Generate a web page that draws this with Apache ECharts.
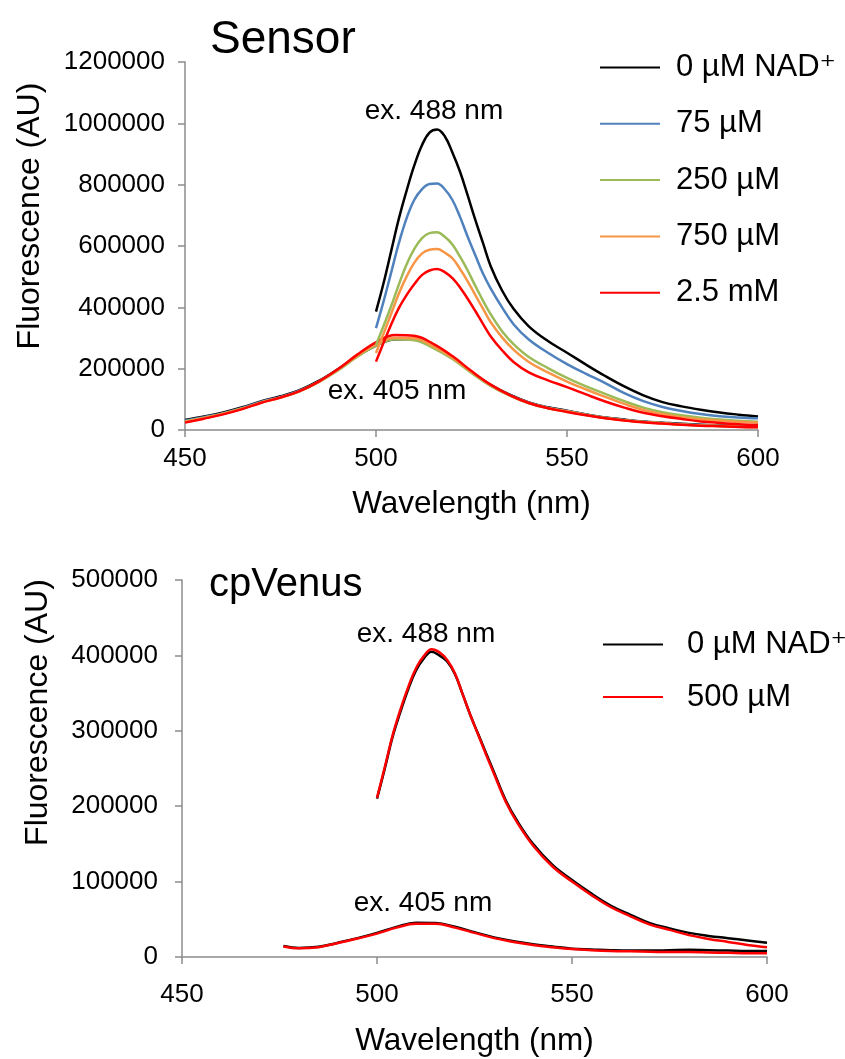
<!DOCTYPE html>
<html>
<head>
<meta charset="utf-8">
<script src="https://cdn.jsdelivr.net/npm/echarts@6/dist/echarts.min.js"></script>
<style>
  html, body { margin: 0; padding: 0; background: #fff; }
  #main { width: 845px; height: 1059px; }
</style>
</head>
<body>
<div id="main"></div>
<script>
// ---- data ----
// Sensor, excitation 488 nm (emission 500-600 nm)
const wl488 = [500, 502, 504, 506, 508, 510, 512, 514, 516, 518, 520, 522, 524, 526, 528, 530,
  533, 536, 540, 545, 550, 555, 560, 565, 570, 575, 580, 585, 590, 595, 600];
const s488_0 = [386000, 480000, 585000, 690000, 780000, 862000, 928000, 970000, 980000, 958000, 905000, 842000,
  765000, 685000, 610000, 535000, 455000, 395000, 338000, 290000, 252000, 213000, 176000, 142000, 113000,
  91000, 77000, 66000, 57000, 50000, 44000];
const s488_75 = [332000, 420000, 515000, 610000, 690000, 750000, 785000, 802000, 804000, 785000, 750000, 695000,
  630000, 570000, 510000, 462000, 400000, 345000, 295000, 252000, 215000, 183000, 153000, 120000, 94000,
  75000, 62000, 52000, 45000, 41000, 38000];
const s488_250 = [277000, 340000, 405000, 475000, 540000, 590000, 625000, 642000, 645000, 630000, 605000, 565000,
  520000, 470000, 422000, 378000, 322000, 280000, 238000, 202000, 170000, 142000, 118000, 94000, 73000,
  58000, 48000, 40000, 34000, 30000, 27000];
const s488_750 = [251000, 315000, 380000, 445000, 500000, 545000, 575000, 588000, 590000, 578000, 560000, 525000,
  485000, 440000, 396000, 352000, 302000, 262000, 222000, 188000, 158000, 132000, 108000, 85000, 65000,
  52000, 42000, 35000, 30000, 27000, 24000];
const s488_2500 = [223000, 285000, 345000, 398000, 440000, 475000, 505000, 520000, 525000, 515000, 495000, 465000,
  428000, 388000, 346000, 306000, 260000, 222000, 188000, 162000, 140000, 116000, 93000, 73000, 56000,
  45000, 36000, 28000, 23000, 19000, 16000];

// Sensor, excitation 405 nm (emission 450-600 nm)
const wl405 = [450, 455, 460, 465, 470, 475, 480, 485, 490, 495, 500, 505, 510, 515, 520, 525, 530, 535,
  540, 545, 550, 555, 560, 565, 570, 575, 580, 585, 590, 595, 600];
const s405_0 = [33000, 44000, 57000, 74000, 94000, 110000, 130000, 160000, 198000, 240000, 275000, 296000, 297000,
  272000, 236000, 189000, 147000, 115000, 90000, 74000, 63000, 51000, 41000, 34000, 28000, 24000, 20000,
  17000, 15000, 13000, 12000];
const s405_75 = [30000, 42000, 55000, 72000, 92000, 108000, 128000, 158000, 196000, 240000, 276000, 298000, 298000,
  272000, 236000, 188000, 146000, 114000, 89000, 73000, 62000, 50000, 40000, 33000, 27000, 23000, 19000,
  16000, 14000, 12000, 11000];
const s405_250 = [28000, 40000, 53000, 70000, 90000, 106000, 126000, 156000, 194000, 238000, 275000, 296000, 293000,
  267000, 232000, 186000, 144000, 112000, 87000, 71000, 60000, 49000, 39000, 32000, 26000, 22000, 18000,
  15000, 13000, 11000, 10000];
const s405_750 = [27000, 39000, 53000, 70000, 90000, 106000, 127000, 157000, 196000, 241000, 279000, 301000, 299000,
  273000, 236000, 189000, 146000, 113000, 88000, 72000, 61000, 49000, 39000, 32000, 26000, 22000, 18000,
  15000, 13000, 11000, 10000];
const s405_2500 = [24000, 37000, 51000, 68000, 89000, 106000, 127000, 158000, 198000, 245000, 286000, 310000, 307000,
  281000, 241000, 192000, 148000, 114000, 88000, 71000, 59000, 48000, 38000, 31000, 25000, 21000, 17000,
  14000, 12000, 10000, 9000];

// cpVenus
const v488_0 = [210000, 250000, 292000, 325000, 355000, 380000, 396000, 405000, 400000, 392000, 375000, 348000,
  320000, 295000, 270000, 245000, 208000, 180000, 150000, 122000, 102000, 84000, 68000, 56000, 45000,
  38000, 32000, 28000, 25000, 22000, 19000];
const v488_500 = [211000, 252000, 294000, 328000, 358000, 383000, 399000, 408000, 404000, 394000, 376000, 348000,
  320000, 294000, 268000, 243000, 206000, 178000, 148000, 120000, 100000, 82000, 66000, 54000, 43000,
  36000, 29000, 24000, 20000, 16000, 13000];
const wl405v = [476, 480, 485, 490, 495, 500, 505, 510, 515, 520, 525, 530, 535, 540, 545, 550, 555, 560,
  565, 570, 575, 580, 585, 590, 595, 600];
const v405_0 = [14500, 12000, 13500, 19000, 25000, 32000, 40000, 45500, 45000, 40000, 33000, 26000, 21000, 17000,
  14000, 11000, 10000, 9000, 8500, 8500, 9000, 9500, 9000, 8500, 8000, 8000];
const v405_500 = [14000, 11500, 13000, 18500, 24500, 31000, 39000, 44000, 44000, 39000, 32000, 25000, 20000, 16000,
  13000, 10500, 9000, 8000, 7500, 7000, 6500, 6500, 6000, 5500, 5000, 5000];

const namesSensor = ['0 µM NAD⁺', '75 µM', '250 µM', '750 µM', '2.5 mM'];
const namesVenus = ['0 µM NAD⁺', '500 µM'];
const colorsSensor = ['#000000', '#4f81bd', '#9bbb59', '#f79646', '#ff0000'];
const colorsVenus = ['#000000', '#ff0000'];

const font = 'Liberation Sans, Arial, DejaVu Sans, sans-serif';
const axisGray = '#8c8c8c';

function pairs(xs, ys) {
  return xs.map((x, i) => [x, ys[i]]);
}

function line(name, color, xs, ys, idx) {
  return {
    name: name,
    type: 'line',
    xAxisIndex: idx,
    yAxisIndex: idx,
    data: pairs(xs, ys),
    showSymbol: false,
    smooth: 0.4,
    lineStyle: { color: color, width: 2.5 },
    itemStyle: { color: color },
    silent: true
  };
}

function xAxisOf(idx, margin, nameGap) {
  return {
    gridIndex: idx, type: 'value', min: 450, max: 600, interval: 50,
    name: 'Wavelength (nm)', nameLocation: 'middle', nameGap: nameGap,
    nameTextStyle: { fontSize: 31.5, color: '#000', fontFamily: font },
    axisLine: { lineStyle: { color: axisGray, width: 1.5 } },
    axisTick: { show: true, length: 7, lineStyle: { color: axisGray, width: 1.5 } },
    axisLabel: { fontSize: 26, color: '#000', fontFamily: font, margin: margin },
    splitLine: { show: false }
  };
}

function yAxisOf(idx, max, interval, margin, nameGap, shift) {
  return {
    gridIndex: idx, type: 'value', min: 0, max: max, interval: interval,
    name: 'Fluorescence (AU)', nameLocation: 'middle', nameGap: nameGap, nameRotate: 90,
    nameTextStyle: { fontSize: 32, color: '#000', fontFamily: font, padding: [0, 0, 0, shift] },
    axisLine: { show: true, lineStyle: { color: axisGray, width: 1.5 } },
    axisTick: { show: true, length: 7, lineStyle: { color: axisGray, width: 1.5 } },
    axisLabel: { fontSize: 26, color: '#000', fontFamily: font, margin: margin, formatter: v => String(v) },
    splitLine: { show: false }
  };
}

const series = [];
namesSensor.forEach((n, i) => {
  series.push(line(n, colorsSensor[i], wl405, [s405_0, s405_75, s405_250, s405_750, s405_2500][i], 0));
});
namesSensor.forEach((n, i) => {
  series.push(line(n, colorsSensor[i], wl488, [s488_0, s488_75, s488_250, s488_750, s488_2500][i], 0));
});
series.push(line(namesVenus[0], colorsVenus[0], wl405v, v405_0, 1));
series.push(line(namesVenus[1], colorsVenus[1], wl405v, v405_500, 1));
series.push(line(namesVenus[0], colorsVenus[0], wl488, v488_0, 1));
series.push(line(namesVenus[1], colorsVenus[1], wl488, v488_500, 1));

const annot = (text, x, y) => ({
  type: 'text', x: x, y: y, silent: true,
  style: { text: text, fontSize: 28, fontFamily: font, fill: '#000', align: 'center', verticalAlign: 'middle' }
});

const chart = echarts.init(document.getElementById('main'), null, { renderer: 'canvas' });
chart.setOption({
  animation: false,
  backgroundColor: '#fff',
  title: [
    { text: 'Sensor', left: 205, top: 12, textStyle: { fontSize: 46, fontWeight: 'normal', color: '#000', fontFamily: font } },
    { text: 'cpVenus', left: 204, top: 560, textStyle: { fontSize: 40, fontWeight: 'normal', color: '#000', fontFamily: font } }
  ],
  legend: [
    {
      data: namesSensor, orient: 'vertical', left: 600, top: 52, padding: 0,
      icon: 'rect', itemWidth: 60, itemHeight: 2, itemGap: 25.3, selectedMode: false,
      textStyle: { fontSize: 31, lineHeight: 31, color: '#000', fontFamily: font, padding: [0, 0, 0, 11] }
    },
    {
      data: namesVenus, orient: 'vertical', left: 603, top: 629, padding: 0,
      icon: 'rect', itemWidth: 60, itemHeight: 2, itemGap: 21.5, selectedMode: false,
      textStyle: { fontSize: 31, lineHeight: 31, color: '#000', fontFamily: font, padding: [0, 0, 0, 19] }
    }
  ],
  grid: [
    { left: 185, top: 62, width: 573, height: 368 },
    { left: 182, top: 580, width: 585, height: 377 }
  ],
  xAxis: [xAxisOf(0, 16, 58), xAxisOf(1, 25, 68)],
  yAxis: [
    yAxisOf(0, 1200000, 200000, 20, 139, 60),
    yAxisOf(1, 500000, 100000, 24, 128, 112)
  ],
  graphic: [
    annot('ex. 488 nm', 434, 111),
    annot('ex. 405 nm', 397, 391),
    annot('ex. 488 nm', 426, 634),
    annot('ex. 405 nm', 423, 903)
  ],
  series: series
});
</script>
</body>
</html>
